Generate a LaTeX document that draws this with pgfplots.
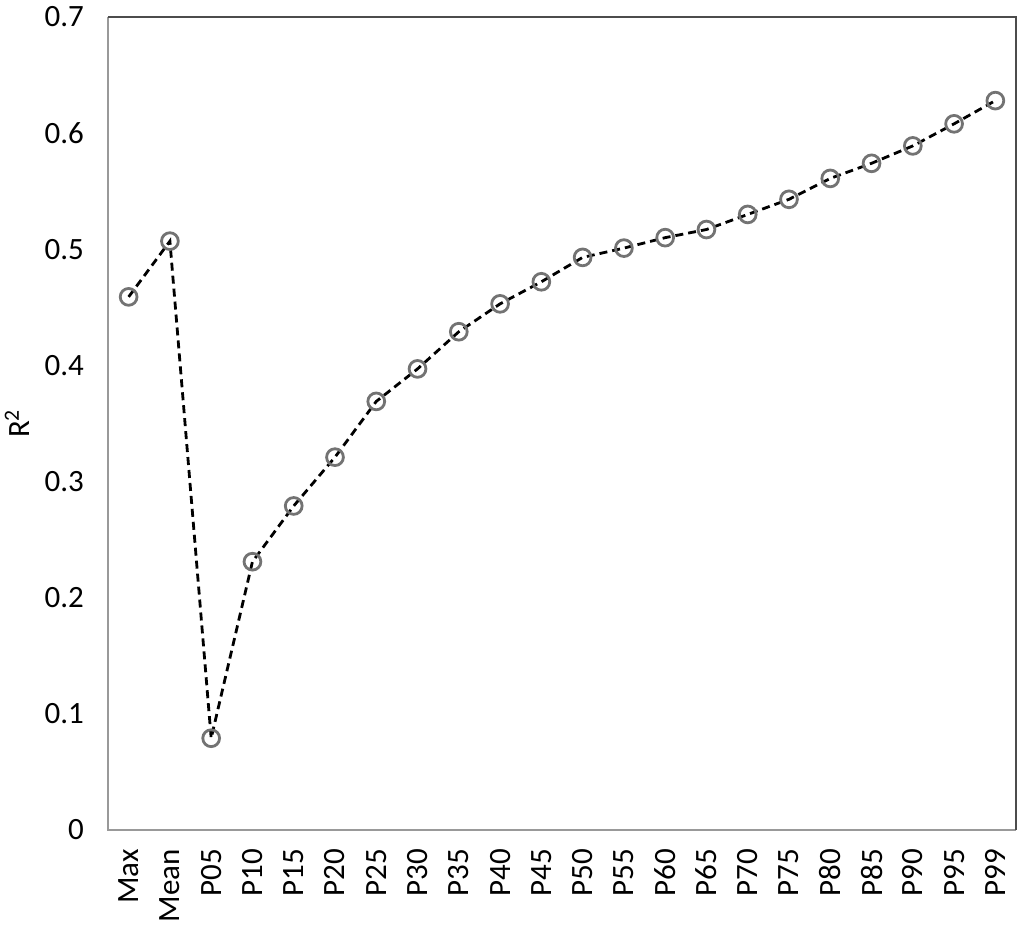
\documentclass[border=0pt]{standalone}
\usepackage{pgfplots}
\pgfplotsset{compat=1.18}
\usepackage{fontspec}
\setmainfont{Carlito}
\begin{document}
\begin{tikzpicture}[x=1pt,y=1pt]
\begin{axis}[
  scale only axis,
  width=454pt, height=406.5pt,
  xmin=-0.5, xmax=21.5, ymin=0, ymax=0.7,
  ytick={0,0.1,...,0.7},
  yticklabel style={/pgf/number format/fixed,/pgf/number format/precision=1},
  /pgf/number format/assume math mode=true,
  xtick={0,...,21},
  xticklabels={Max,Mean,P05,P10,P15,P20,P25,P30,P35,P40,P45,P50,P55,P60,P65,P70,P75,P80,P85,P90,P95,P99},
  xticklabel style={rotate=90, anchor=east, font=\fontsize{15.5}{18}\selectfont},
  xticklabel shift=6pt,
  yticklabel style={font=\fontsize{15.5}{18}\selectfont, xshift=-8.5pt},
  major tick length=0pt,
  axis line style={draw=none},
  tick style={draw=none},
  clip=false,
  ylabel={R\textsuperscript{2}},
  every axis y label/.style={at={(axis description cs:0,0.5)}, anchor=center, xshift=-45.5pt, rotate=90, font=\fontsize{15.5}{18}\selectfont},
]
\draw[color=black!40, line width=1.2pt] (axis cs:-0.5,0.7) -- (axis cs:-0.5,0) -- (axis cs:21.5,0);
\draw[color=black!70, line width=1.2pt] (axis cs:-0.5,0.7) -- (axis cs:21.5,0.7) -- (axis cs:21.5,0);
\addplot[only marks, mark=o, mark size=4.2pt, mark options={draw=black!55, line width=1.4pt}] table {
x y
0 0.459
1 0.507
2 0.079
3 0.231
4 0.279
5 0.321
6 0.369
7 0.397
8 0.429
9 0.453
10 0.472
11 0.493
12 0.501
13 0.510
14 0.517
15 0.530
16 0.543
17 0.561
18 0.574
19 0.589
20 0.608
21 0.628
};
\addplot[black, line width=1.4pt, dash pattern=on 4pt off 2.5pt, no marks] table {
x y
0 0.459
1 0.507
2 0.079
3 0.231
4 0.279
5 0.321
6 0.369
7 0.397
8 0.429
9 0.453
10 0.472
11 0.493
12 0.501
13 0.510
14 0.517
15 0.530
16 0.543
17 0.561
18 0.574
19 0.589
20 0.608
21 0.628
};
\end{axis}
\pgfresetboundingbox
\path (current axis.south west) ++(-54pt,-53pt) coordinate (bbl);
\path (current axis.north east) ++(4pt,8.5pt) coordinate (bbr);
\useasboundingbox (bbl) rectangle (bbr);
\end{tikzpicture}
\end{document}
